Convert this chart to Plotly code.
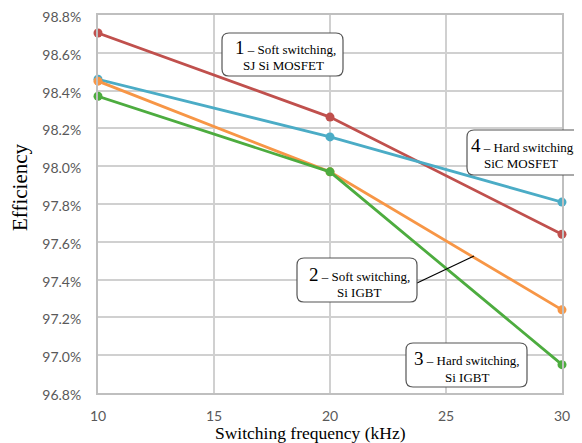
import plotly.graph_objects as go

freq = [10, 20, 30]
soft_sj_mosfet = [98.705, 98.26, 97.64]
hard_sic_mosfet = [98.46, 98.155, 97.81]
soft_si_igbt = [98.45, 97.97, 97.24]
hard_si_igbt = [98.37, 97.97, 96.95]

y_ticks = [96.8, 97.0, 97.2, 97.4, 97.6, 97.8, 98.0, 98.2, 98.4, 98.6, 98.8]
y_tick_labels = [f"{v:.1f}%" for v in y_ticks]
x_ticks = [10, 15, 20, 25, 30]

# page has an 8px body margin, so the figure starts at (8, 8)
OFF = 8
W, H = 582 - OFF, 443 - OFF
PL, PR, PT, PB = 98, 562, 15, 393   # plot area in page pixels
ML, MR, MT, MB = PL - OFF, 582 - PR, PT - OFF, 443 - PB

def px(x):
    return (x - PL) / (PR - PL)

def py(y):
    return (PB - y) / (PB - PT)

fig = go.Figure()
series = [
    (soft_sj_mosfet, "#C0504D"),
    (hard_sic_mosfet, "#4BACC6"),
    (soft_si_igbt, "#F79646"),
    (hard_si_igbt, "#4DAC3F"),
]
for vals, col in series:
    fig.add_trace(go.Scatter(x=freq, y=vals, mode="lines+markers",
                             line=dict(color=col, width=2.8),
                             marker=dict(color=col, size=9),
                             showlegend=False, cliponaxis=False))

def rounded_box(x0, y0, x1, y1, r=7):
    def P(x, y):
        return f"{px(x):.5f},{py(y):.5f}"
    path = (f"M {P(x0 + r, y0)} L {P(x1 - r, y0)} Q {P(x1, y0)} {P(x1, y0 + r)} "
            f"L {P(x1, y1 - r)} Q {P(x1, y1)} {P(x1 - r, y1)} "
            f"L {P(x0 + r, y1)} Q {P(x0, y1)} {P(x0, y1 - r)} "
            f"L {P(x0, y0 + r)} Q {P(x0, y0)} {P(x0 + r, y0)} Z")
    return dict(type="path", xref="paper", yref="paper", path=path,
                line=dict(color="#555555", width=1.2), fillcolor="white", layer="above")

shapes = [
    dict(type="line", xref="paper", yref="paper", x0=px(417), y0=py(283), x1=px(474), y1=py(256),
         line=dict(color="black", width=1.2), layer="above"),
    rounded_box(222, 33, 343, 76),
    rounded_box(467, 130, 595, 175),
    rounded_box(297, 258, 417, 302),
    rounded_box(406, 343, 527, 387),
]

serif = "Liberation Serif, Times New Roman, serif"
anns = []
def lab(num, text, line2, cx1, y1, cx2, y2, anchor1="center"):
    anns.append(dict(xref="paper", yref="paper", x=px(cx1), y=py(y1), xanchor=anchor1, yanchor="middle",
                     text=f"<span style='font-size:19px'>{num}</span> – {text}", showarrow=False,
                     font=dict(family=serif, size=13, color="black")))
    anns.append(dict(xref="paper", yref="paper", x=px(cx2), y=py(y2), xanchor="center", yanchor="middle",
                     text=line2, showarrow=False,
                     font=dict(family=serif, size=13, color="black")))

lab("1", "Soft switching,", "SJ Si MOSFET", 285, 47, 283, 65)
lab("4", "Hard switching,", "SiC MOSFET", 469, 146, 521, 163, anchor1="left")
lab("2", "Soft switching,", "Si IGBT", 359, 274, 359, 292)
lab("3", "Hard switching,", "Si IGBT", 467, 358, 467, 377)

# axis titles placed as in the reference (offset from plot centre)
anns.append(dict(xref="paper", yref="paper", x=px(20), y=py(187), xanchor="center", yanchor="middle",
                 text="Efficiency", textangle=-90, showarrow=False,
                 font=dict(family=serif, size=21, color="black")))
anns.append(dict(xref="paper", yref="paper", x=px(310), y=py(433), xanchor="center", yanchor="middle",
                 text="Switching frequency (kHz)", showarrow=False,
                 font=dict(family=serif, size=17.5, color="black")))

tickfont = dict(family="Lato, Carlito, sans-serif", size=14, color="#595959")
fig.update_layout(
    width=W, height=H,
    margin=dict(l=ML, r=MR, t=MT, b=MB, autoexpand=False),
    paper_bgcolor="white", plot_bgcolor="white",
    shapes=shapes, annotations=anns,
    xaxis=dict(range=[10, 30], tickvals=x_ticks, ticktext=[str(v) for v in x_ticks],
               showgrid=True, gridcolor="#D0D0D0", gridwidth=2,
               showline=True, linecolor="#BFBFBF", linewidth=2, mirror=True,
               zeroline=False, ticks="", automargin=False, ticklabelstandoff=9,
               ticklabeloverflow="allow", tickfont=tickfont),
    yaxis=dict(range=[96.8, 98.8], tickvals=y_ticks, ticktext=y_tick_labels,
               showgrid=True, gridcolor="#D0D0D0", gridwidth=2,
               showline=True, linecolor="#BFBFBF", linewidth=2, mirror=True,
               zeroline=False, ticks="", automargin=False, ticklabelstandoff=12,
               ticklabelshift=2,
               ticklabeloverflow="allow", tickfont=tickfont),
)

fig.write_html("out.html")
